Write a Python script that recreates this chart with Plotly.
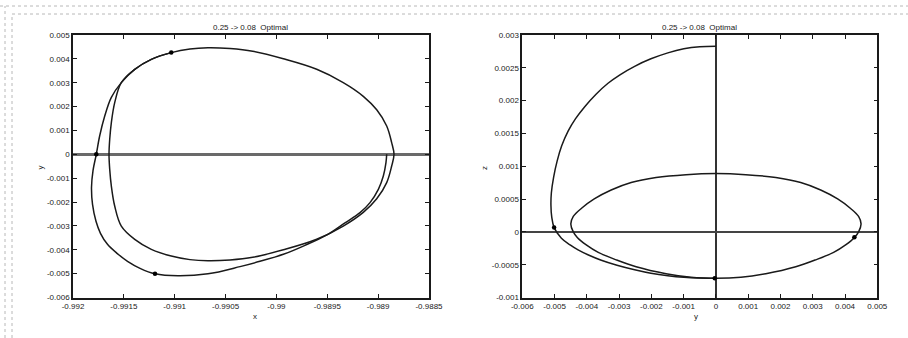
import plotly.graph_objects as go

# ---- x-y projection -------------------------------------------------------
# final periodic orbit (closed loop, starting at the insertion point)
orbit_xy_x = [-0.991034, -0.990850, -0.990673, -0.990456, -0.990233, -0.989932,
              -0.989604, -0.989343, -0.989146, -0.989014, -0.988916, -0.988867,
              -0.988844, -0.988867, -0.988916, -0.989014, -0.989146, -0.989343,
              -0.989604, -0.989932, -0.990233, -0.990456, -0.990673, -0.990850,
              -0.991034, -0.991230, -0.991393, -0.991525, -0.991590, -0.991623,
              -0.991639, -0.991646, -0.991639, -0.991623, -0.991590, -0.991525,
              -0.991393, -0.991230, -0.991034]
orbit_xy_y = [0.004262, 0.004413, 0.004463, 0.004430, 0.004317, 0.004002,
              0.003562, 0.003005, 0.002431, 0.001865, 0.001186, 0.000490,
              0.000000, -0.000490, -0.001186, -0.001865, -0.002431, -0.003005,
              -0.003562, -0.004002, -0.004317, -0.004430, -0.004463, -0.004413,
              -0.004262, -0.003981, -0.003562, -0.003005, -0.002167, -0.001329,
              -0.000629, 0.000000, 0.000629, 0.001329, 0.002167, 0.003005,
              0.003562, 0.003981, 0.004262]

# transfer arc
transfer_xy_x = [-0.988916, -0.988923, -0.988949, -0.988998, -0.989080, -0.989178,
                 -0.989326, -0.989503, -0.989719, -0.989932, -0.990162, -0.990358,
                 -0.990673, -0.990968, -0.991194, -0.991341, -0.991464, -0.991567,
                 -0.991661, -0.991730, -0.991774, -0.991808, -0.991818, -0.991803,
                 -0.991771, -0.991738, -0.991688, -0.991623, -0.991525, -0.991393,
                 -0.991230, -0.991034]
transfer_xy_y = [0.000000, -0.000348, -0.000909, -0.001467, -0.002024, -0.002443,
                 -0.002871, -0.003374, -0.003814, -0.004191, -0.004484, -0.004706,
                 -0.005008, -0.005092, -0.005008, -0.004778, -0.004484, -0.004149,
                 -0.003772, -0.003311, -0.002808, -0.002096, -0.001383, -0.000671,
                 0.000000, 0.000767, 0.001605, 0.002389, 0.003005, 0.003562,
                 0.003981, 0.004262]

# manoeuvre points
burn_xy_x = [-0.991034, -0.991194, -0.991771]
burn_xy_y = [0.004262, -0.005008, 0.000000]

# ---- y-z projection -------------------------------------------------------
orbit_yz_y = [0.000000, 0.000927, 0.001855, 0.002627, 0.003246, 0.003771,
              0.004173, 0.004420, 0.004497, 0.004420, 0.004296, 0.004018,
              0.003647, 0.003091, 0.002473, 0.001546, 0.000773, 0.000000,
              -0.000773, -0.001546, -0.002473, -0.003091, -0.003647, -0.004018,
              -0.004296, -0.004420, -0.004497, -0.004420, -0.004173, -0.003771,
              -0.003246, -0.002627, -0.001855, -0.000927, 0.000000]
orbit_yz_z = [0.000888, 0.000872, 0.000828, 0.000752, 0.000638, 0.000502,
              0.000357, 0.000236, 0.000122, 0.000000, -0.000084, -0.000198,
              -0.000312, -0.000426, -0.000532, -0.000638, -0.000692, -0.000707,
              -0.000692, -0.000638, -0.000532, -0.000426, -0.000312, -0.000198,
              -0.000084, 0.000000, 0.000122, 0.000236, 0.000357, 0.000502,
              0.000638, 0.000752, 0.000828, 0.000872, 0.000888]

transfer_yz_y = [0.000000, -0.000501, -0.000995, -0.001490, -0.002015, -0.002519,
                 -0.002974, -0.003344, -0.003715, -0.004065, -0.004349, -0.004581,
                 -0.004782, -0.004921, -0.005029, -0.005100, -0.005113, -0.005088,
                 -0.005014, -0.004788, -0.004519, -0.004272, -0.003932, -0.003552,
                 -0.003066, -0.002519, -0.002015, -0.001490, -0.000995, -0.000501,
                 -0.000037]
transfer_yz_z = [0.002827, 0.002820, 0.002789, 0.002728, 0.002637, 0.002523,
                 0.002394, 0.002265, 0.002098, 0.001908, 0.001725, 0.001535,
                 0.001307, 0.001079, 0.000836, 0.000593, 0.000410, 0.000228,
                 0.000065, -0.000096, -0.000198, -0.000274, -0.000357, -0.000433,
                 -0.000509, -0.000578, -0.000631, -0.000669, -0.000693, -0.000704,
                 -0.000707]

burn_yz_y = [-0.005014, -0.000037, 0.004290]
burn_yz_z = [0.000065, -0.000707, -0.000081]

# ---- axis ticks -----------------------------------------------------------
x1_ticks = [-0.992, -0.9915, -0.991, -0.9905, -0.99, -0.9895, -0.989, -0.9885]
x1_labels = ["-0.992", "-0.9915", "-0.991", "-0.9905", "-0.99", "-0.9895", "-0.989", "-0.9885"]
y1_ticks = [0.005, 0.004, 0.003, 0.002, 0.001, 0.0, -0.001, -0.002, -0.003, -0.004, -0.005, -0.006]
y1_labels = ["0.005", "0.004", "0.003", "0.002", "0.001", "0", "-0.001", "-0.002",
             "-0.003", "-0.004", "-0.005", "-0.006"]
x2_ticks = [-0.006, -0.005, -0.004, -0.003, -0.002, -0.001, 0.0, 0.001, 0.002, 0.003, 0.004, 0.005]
x2_labels = ["-0.006", "-0.005", "-0.004", "-0.003", "-0.002", "-0.001", "0",
             "0.001", "0.002", "0.003", "0.004", "0.005"]
y2_ticks = [0.003, 0.0025, 0.002, 0.0015, 0.001, 0.0005, 0.0, -0.0005, -0.001]
y2_labels = ["0.003", "0.0025", "0.002", "0.0015", "0.001", "0.0005", "0", "-0.0005", "-0.001"]

title_text = "0.25 -> 0.08  Optimal"

W, H = 908, 338
LINE = "#1a1a1a"
FONT = dict(family="Liberation Sans, Arial, sans-serif", size=8, color="#1a1a1a")

fig = go.Figure()

def curve(xs, ys, xa, ya):
    fig.add_trace(go.Scatter(x=xs, y=ys, mode="lines", xaxis=xa, yaxis=ya,
                             line=dict(color=LINE, width=1.5, shape="spline", smoothing=1.0),
                             hoverinfo="skip", showlegend=False))

def dots(xs, ys, xa, ya):
    fig.add_trace(go.Scatter(x=xs, y=ys, mode="markers", xaxis=xa, yaxis=ya,
                             marker=dict(color="#000", size=4.5),
                             hoverinfo="skip", showlegend=False))

curve(orbit_xy_x, orbit_xy_y, "x", "y")
curve(transfer_xy_x, transfer_xy_y, "x", "y")
dots(burn_xy_x, burn_xy_y, "x", "y")

curve(orbit_yz_y, orbit_yz_z, "x2", "y2")
curve(transfer_yz_y, transfer_yz_z, "x2", "y2")
dots(burn_yz_y, burn_yz_z, "x2", "y2")

y_dom = [1 - 297.5 / H, 1 - 35 / H]

axis_common = dict(showline=True, linecolor=LINE, linewidth=1.6, mirror="allticks",
                   ticks="inside", ticklen=4, tickwidth=1, tickcolor=LINE,
                   showgrid=False, tickfont=FONT, tickmode="array",
                   automargin=False, ticklabelstandoff=0)

fig.update_layout(
    width=W, height=H, autosize=False,
    margin=dict(l=0, r=0, t=0, b=0),
    paper_bgcolor="white", plot_bgcolor="white",
    xaxis=dict(domain=[73 / W, 429 / W], range=[-0.992, -0.9885], anchor="y",
               tickvals=x1_ticks, ticktext=x1_labels, zeroline=False, **axis_common),
    yaxis=dict(domain=y_dom, range=[-0.006, 0.005], anchor="x",
               tickvals=y1_ticks, ticktext=y1_labels,
               zeroline=True, zerolinecolor="#6a6a6a", zerolinewidth=2.5, **axis_common),
    xaxis2=dict(domain=[522.3 / W, 877.3 / W], range=[-0.006, 0.005], anchor="y2",
                tickvals=x2_ticks, ticktext=x2_labels,
                zeroline=True, zerolinecolor="#333", zerolinewidth=1.5, **axis_common),
    yaxis2=dict(domain=y_dom, range=[-0.001, 0.003], anchor="x2",
                tickvals=y2_ticks, ticktext=y2_labels,
                zeroline=True, zerolinecolor="#444", zerolinewidth=1.8, **axis_common),
)

# panel titles and axis names
ann = []
for cx in [(73 + 429) / 2 / W, (522.3 + 877.3) / 2 / W]:
    ann.append(dict(text=title_text, x=cx, y=1 - 28 / H, xref="paper", yref="paper",
                    showarrow=False, font=FONT, xanchor="center", yanchor="middle"))
ann.append(dict(text="x", x=251 / W, y=1 - 316 / H, xref="paper", yref="paper",
                showarrow=False, font=FONT, yanchor="middle"))
ann.append(dict(text="y", x=700 / W, y=1 - 316 / H, xref="paper", yref="paper",
                showarrow=False, font=FONT, yanchor="middle"))
ann.append(dict(text="y", x=33 / W, y=1 - 168 / H, xref="paper", yref="paper",
                showarrow=False, font=FONT, textangle=-90))
ann.append(dict(text="z", x=484 / W, y=1 - 168 / H, xref="paper", yref="paper",
                showarrow=False, font=FONT, textangle=-90))
fig.update_layout(annotations=ann)

# dotted page frame
frame = dict(color="#b8b8b8", width=1, dash="dot")
fig.update_layout(shapes=[
    dict(type="line", xref="paper", yref="paper", x0=0, x1=1, y0=1 - 6 / H, y1=1 - 6 / H, line=frame),
    dict(type="line", xref="paper", yref="paper", x0=5 / W, x1=5 / W, y0=0, y1=1 - 6 / H, line=frame),
    dict(type="line", xref="paper", yref="paper", x0=12 / W, x1=1, y0=1 - 14 / H, y1=1 - 14 / H, line=frame),
    dict(type="line", xref="paper", yref="paper", x0=12 / W, x1=12 / W, y0=0, y1=1 - 14 / H, line=frame),
])

fig.write_html("out.html")
